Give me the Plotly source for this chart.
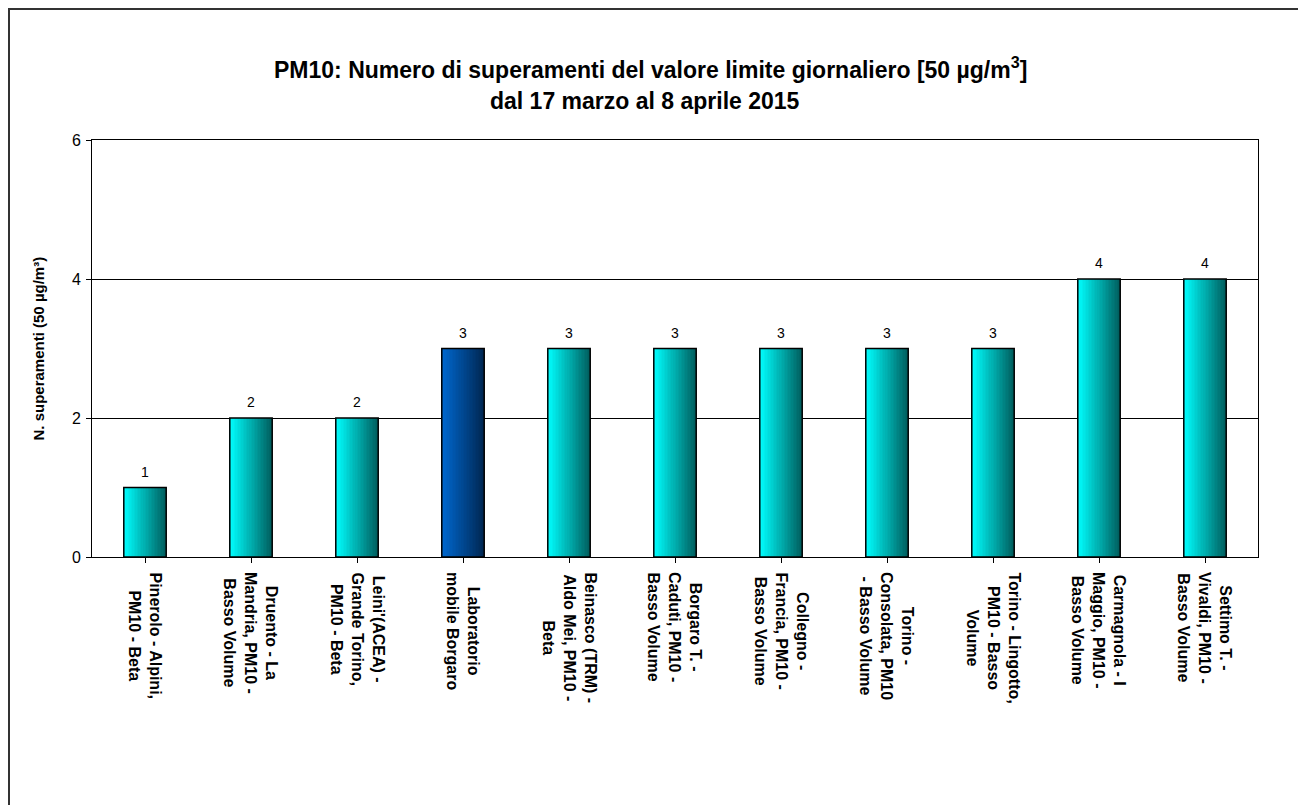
import plotly.graph_objects as go

categories = [
    "Pinerolo - Alpini,<br>PM10 - Beta",
    "Druento - La<br>Mandria, PM10 -<br>Basso Volume",
    "Leini'(ACEA) -<br>Grande Torino,<br>PM10 - Beta",
    "Laboratorio<br>mobile Borgaro",
    "Beinasco (TRM) -<br>Aldo Mei, PM10 -<br>Beta",
    "Borgaro T. -<br>Caduti, PM10 -<br>Basso Volume",
    "Collegno -<br>Francia, PM10 -<br>Basso Volume",
    "Torino -<br>Consolata, PM10<br>- Basso Volume",
    "Torino - Lingotto,<br>PM10 - Basso<br>Volume",
    "Carmagnola - I<br>Maggio, PM10 -<br>Basso Volume",
    "Settimo T. -<br>Vivaldi, PM10 -<br>Basso Volume",
]
values = [1, 2, 2, 3, 3, 3, 3, 3, 3, 4, 4]
highlight = [False, False, False, True, False, False, False, False, False, False, False]

title_line1 = "PM10: Numero di superamenti del valore limite giornaliero [50 µg/m<sup>3</sup>]"
title_line2 = "dal 17 marzo al 8 aprile 2015"
y_title = "N. superamenti (50 µg/m³)"

x_idx = list(range(len(categories)))

def lerp(c1, c2, t):
    return "rgb(%d,%d,%d)" % tuple(round(a + (b - a) * t) for a, b in zip(c1, c2))

cyan_l, cyan_r = (0, 255, 255), (0, 96, 96)
blue_l, blue_r = (0, 104, 208), (0, 40, 84)

FONT = "Liberation Sans, Arial"
W = 0.4
N = 28
fig = go.Figure()
for i in range(N):
    t = i / (N - 1)
    cols = [lerp(blue_l, blue_r, t) if h else lerp(cyan_l, cyan_r, t) for h in highlight]
    fig.add_trace(go.Bar(
        x=x_idx, y=values,
        width=W / N * 1.15, offset=-W / 2 + i * W / N,
        marker=dict(color=cols, line=dict(width=0)),
        hoverinfo="skip", showlegend=False,
    ))
fig.add_trace(go.Bar(
    x=x_idx, y=values, width=W, offset=-W / 2,
    marker=dict(color="rgba(0,0,0,0)", line=dict(color="black", width=1.5)),
    showlegend=False,
))

annotations = []
for xi, v in zip(x_idx, values):
    annotations.append(dict(x=xi, y=v, xref="x", yref="y", text=str(v), showarrow=False,
                            yanchor="bottom", yshift=6,
                            font=dict(family=FONT, size=14, color="black")))
for xi, c in zip(x_idx, categories):
    annotations.append(dict(x=xi, y=0, xref="x", yref="paper",
                            text="<b>%s</b>" % c.replace("<br>", "</b><br><b>"),
                            showarrow=False, textangle=90, yanchor="top", xanchor="center",
                            align="center", yshift=-13,
                            font=dict(family=FONT, size=16, color="black")))
annotations.append(dict(x=0.479, y=(557 - 68) / 417, xref="paper", yref="paper",
                        text="<b>%s</b>" % title_line1,
                        showarrow=False, xanchor="center", yanchor="middle",
                        font=dict(family=FONT, size=23, color="black")))
annotations.append(dict(x=0.474, y=(557 - 101) / 417, xref="paper", yref="paper",
                        text="<b>%s</b>" % title_line2,
                        showarrow=False, xanchor="center", yanchor="middle",
                        font=dict(family=FONT, size=23, color="black")))
annotations.append(dict(x=(38 - 92) / 1166, y=0.5, xref="paper", yref="paper",
                        text="<b>%s</b>" % y_title,
                        showarrow=False, textangle=-90, xanchor="center", yanchor="middle",
                        font=dict(family=FONT, size=15, color="black")))

shapes = [
    dict(type="rect", xref="paper", yref="paper",
         x0=(9 - 92) / 1166, x1=(1303 - 92) / 1166,
         y0=(557 - 820) / 417, y1=(557 - 9) / 417,
         line=dict(color="#333333", width=2), fillcolor="rgba(0,0,0,0)", layer="below"),
]

fig.update_layout(
    width=1298, height=797,
    margin=dict(l=84, r=48, t=132, b=248),
    paper_bgcolor="white", plot_bgcolor="white",
    barmode="overlay",
    annotations=annotations, shapes=shapes,
    font=dict(family=FONT, color="black"),
    xaxis=dict(range=[-0.5, len(categories) - 0.5], tickmode="array", tickvals=x_idx,
               showticklabels=False, ticks="outside", tickson="boundaries", ticklen=5,
               tickcolor="black", showline=True, linecolor="black", linewidth=1,
               mirror=True, showgrid=False, zeroline=False, fixedrange=True),
    yaxis=dict(range=[0, 6], dtick=2, ticks="outside", ticklen=5, tickcolor="black",
               showline=True, linecolor="black", linewidth=1, mirror=True,
               showgrid=True, gridcolor="black", gridwidth=1, zeroline=False,
               tickfont=dict(size=16, family=FONT, color="black"),
               ticklabelstandoff=2,
               fixedrange=True),
)

fig.write_html("out.html")
